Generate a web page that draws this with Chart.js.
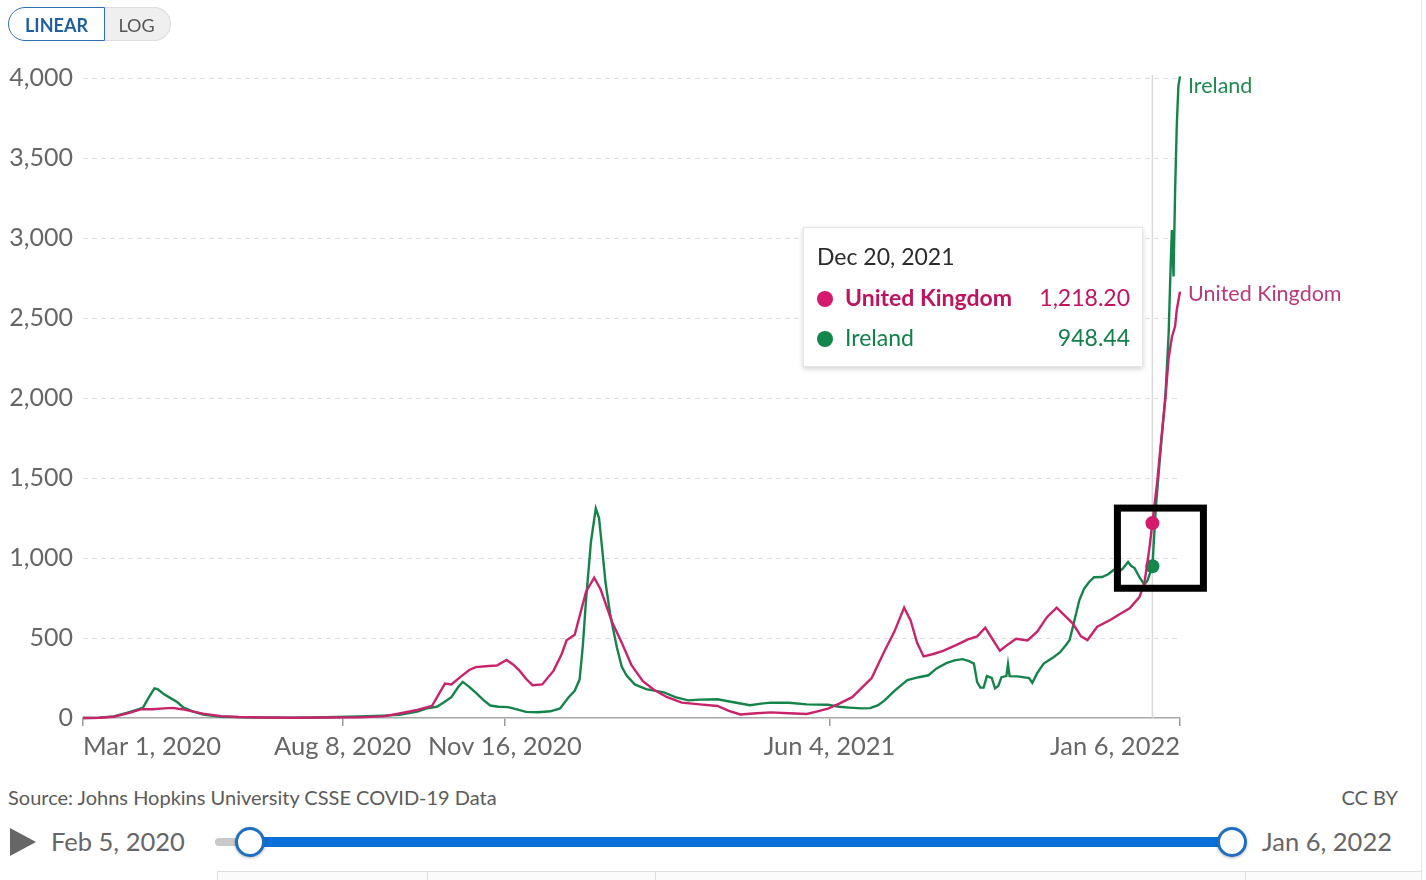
<!DOCTYPE html>
<html>
<head>
<meta charset="utf-8">
<script src="https://cdn.jsdelivr.net/npm/chart.js@4.4.0/dist/chart.umd.min.js"></script>
<style>
  body { margin: 0; background: #fff; font-family: Lato, "Noto Sans", sans-serif; }
  #wrap { position: relative; width: 1426px; height: 880px; overflow: hidden; }
  #frame { position: absolute; left: 1421px; top: 0; width: 1px; height: 880px; background: #e3e3e3; }
  #chartBox { position: absolute; left: 0; top: 0; width: 1426px; height: 780px; }
  .toggle { position: absolute; top: 7px; height: 34px; line-height: 34px; font-size: 18px; text-align: center; box-sizing: border-box; }
  #linear { left: 8px; width: 97px; border: 1.5px solid #2f6fb5; border-radius: 17px 0 0 17px; color: #1f5f9f; font-weight: 700; background: #fff; z-index: 2; }
  #log { left: 103px; width: 68px; border: 1px solid #ddd; border-left: none; border-radius: 0 17px 17px 0; background: #efefef; color: #555; }
  #tip { position: absolute; left: 803px; top: 227px; width: 340px; height: 140px; background: #fff; border: 1px solid #e6e6e6; box-shadow: 0 2px 5px rgba(0,0,0,0.18); box-sizing: border-box; }
  #tip .title { position: absolute; left: 13px; top: 14px; font-size: 23px; color: #2b2b2b; }
  #tip .row { position: absolute; left: 13px; right: 12px; height: 30px; line-height: 30px; font-size: 23px; }
  #tip .dot { display: inline-block; width: 16px; height: 16px; border-radius: 50%; margin-right: 12px; vertical-align: -1px; }
  #tip .name { font-weight: 700; }
  #tip .val { position: absolute; right: 0; top: 0; }
  #source { position: absolute; left: 8px; top: 785px; font-size: 20px; color: #5b5b5b; }
  #cc { position: absolute; right: 28px; top: 785px; font-size: 20px; color: #5b5b5b; }
  #play { position: absolute; left: 10px; top: 828px; width: 0; height: 0; border-top: 14px solid transparent; border-bottom: 14px solid transparent; border-left: 26px solid #666; }
  .date { position: absolute; top: 826px; font-size: 25.5px; color: #666; }
  #track { position: absolute; left: 215px; top: 838px; width: 1030px; height: 8px; background: #c9c9c9; border-radius: 4px; }
  #range { position: absolute; left: 250px; top: 837px; width: 982px; height: 10px; background: #0b6fd8; }
  .handle { position: absolute; top: 827px; width: 30px; height: 30px; border-radius: 50%; background: #fff; border: 3px solid #1e6fc2; box-sizing: border-box; box-shadow: 0 1px 3px rgba(0,0,0,0.3); }
  #tabs { position: absolute; left: 217px; top: 871px; width: 1204px; height: 12px; border-top: 1px solid #dedede; background: #fbfbfb; }
  .tabsep { position: absolute; top: 871px; width: 1px; height: 12px; background: #dedede; }
</style>
</head>
<body>
<div id="wrap">
  <div id="chartBox"><canvas id="covidChart" width="1426" height="780"></canvas></div>
  <div class="toggle" id="linear">LINEAR</div>
  <div class="toggle" id="log">LOG</div>
  <div id="tip">
    <div class="title" id="tipTitle"></div>
    <div class="row" style="top:54px;color:#c0135f"><span class="dot" style="background:#d41a6b"></span><span class="name">United Kingdom</span><span class="val" id="tipUk"></span></div>
    <div class="row" style="top:94px;color:#11804a"><span class="dot" style="background:#13874b"></span><span class="name" style="font-weight:400">Ireland</span><span class="val" id="tipIe"></span></div>
  </div>
  <div id="source">Source: Johns Hopkins University CSSE COVID-19 Data</div>
  <div id="cc">CC BY</div>
  <div id="play"></div>
  <div class="date" style="left:51px">Feb 5, 2020</div>
  <div id="track"></div>
  <div id="range"></div>
  <div class="handle" style="left:235px"></div>
  <div class="handle" style="left:1217px"></div>
  <div class="date" style="left:1262px">Jan 6, 2022</div>
  <div id="tabs"></div>
  <div class="tabsep" style="left:217px"></div>
  <div class="tabsep" style="left:427px"></div>
  <div class="tabsep" style="left:655px"></div>
  <div class="tabsep" style="left:1245px"></div>
  <div id="frame"></div>
</div>
<script>
// Days counted from Mar 1, 2020; values are daily new cases per million (7-day avg)
const ukDays = [0, 10, 19, 28, 36, 43, 50, 55, 61, 68, 74, 85, 96, 110, 130, 150, 170, 185, 195, 206,
  215, 219, 223, 227, 233, 238, 242, 250, 255, 261, 265, 269, 273, 277, 283, 290, 295, 298, 303, 310,
  315, 319, 326, 332, 338, 345, 352, 360, 369, 380, 391, 398, 405, 415, 424, 435, 446, 452, 459, 466,
  474, 480, 486, 494, 500, 506, 510, 514, 518, 524, 530, 538, 545, 551, 556, 560, 565, 570, 575, 582,
  588, 594, 600, 605, 610, 615, 619, 625, 633, 639, 645, 651, 654, 657, 659, 662, 665, 667, 669, 671,
  673, 674, 676];
const ukCases = [0, 2, 8, 30, 55, 55, 60, 63, 55, 40, 27, 12, 6, 3, 2, 3, 4, 10, 28, 50,
  75, 145, 215, 210, 260, 300, 318, 325, 328, 363, 335, 296, 245, 205, 210, 296, 400, 486, 520, 790,
  877, 803, 600, 470, 330, 230, 175, 130, 96, 85, 75, 45, 22, 30, 35, 30, 25, 40, 58, 90,
  130, 190, 250, 420, 540, 690, 610, 470, 385, 400, 420, 455, 490, 510, 565, 500, 420, 460, 495, 485,
  540, 630, 690, 640, 590, 510, 487, 570, 612, 650, 685, 756, 840, 1050, 1218.20, 1480, 1800, 2000, 2250, 2380,
  2450, 2550, 2665];

const ieDays = [0, 10, 19, 28, 33, 37, 40, 44, 46, 50, 55, 58, 62, 68, 74, 85, 100, 130, 150, 170,
  185, 195, 206, 212, 218, 222, 227, 231, 234, 238, 242, 247, 251, 256, 262, 268, 273, 280, 288, 294,
  299, 303, 306, 308, 310, 313, 316, 318, 320, 322, 325, 329, 332, 335, 340, 347, 358, 365, 373, 380,
  391, 400, 411, 418, 424, 435, 446, 459, 466, 472, 480, 485, 490, 494, 500, 508, 515, 521, 526, 532,
  537, 542, 546, 549, 551, 553, 555, 557, 560, 562, 564, 566, 569, 570, 571, 576, 583, 585, 588, 592,
  598, 602, 606, 608, 611, 614, 617, 620, 623, 628, 632, 635, 638, 641, 644, 646, 648, 651, 654, 656,
  659, 661, 664, 667, 669, 670, 671, 672, 673, 674, 675, 676];
const ieCases = [0, 2, 10, 35, 50, 65, 120, 185, 180, 148, 118, 100, 65, 40, 22, 8, 4, 2, 5, 10,
  15, 20, 40, 60, 70, 95, 130, 190, 226, 195, 158, 110, 78, 70, 68, 52, 38, 36, 42, 60,
  127, 170, 240, 450, 740, 1100, 1310, 1250, 1050, 845, 640, 440, 320, 265, 210, 180, 160, 130, 110, 115,
  117, 100, 80, 90, 96, 95, 85, 83, 70, 65, 60, 62, 80, 110, 170, 237, 255, 267, 310, 343,
  360, 368, 355, 340, 225, 190, 190, 262, 250, 185, 200, 255, 262, 337, 262, 260, 250, 220, 280, 340,
  380, 410, 460, 487, 612, 737, 810, 850, 880, 881, 900, 925, 910, 937, 975, 950, 937, 880, 835, 860,
  948.44, 1300, 1670, 2010, 2400, 2750, 3050, 2760, 3300, 3700, 3950, 4010];

const tickDays = [0, 160, 260, 460, 676];
const tickLabels = ["Mar 1, 2020", "Aug 8, 2020", "Nov 16, 2020", "Jun 4, 2021", "Jan 6, 2022"];

const hoverDay = 659;
const hoverLabel = "Dec 20, 2021";

const ukColor = "#c8236b";
const ieColor = "#15844b";

function toPoints(days, values) {
  return days.map((d, i) => ({ x: d, y: values[i] }));
}

// Fill the tooltip from the data at the hovered day
const fmt = (v) => v.toLocaleString("en-US", { minimumFractionDigits: 2, maximumFractionDigits: 2 });
document.getElementById("tipTitle").textContent = hoverLabel;
document.getElementById("tipUk").textContent = fmt(ukCases[ukDays.indexOf(hoverDay)]);
document.getElementById("tipIe").textContent = fmt(ieCases[ieDays.indexOf(hoverDay)]);

// Hover line, end labels and the black highlight box
const overlayPlugin = {
  id: "overlay",
  beforeDatasetsDraw(chart) {
    const { ctx, chartArea, scales } = chart;
    const x = scales.x.getPixelForValue(hoverDay);
    ctx.save();
    ctx.strokeStyle = "#d9d9d9";
    ctx.lineWidth = 1.5;
    ctx.beginPath();
    ctx.moveTo(x, chartArea.top - 3);
    ctx.lineTo(x, chartArea.bottom);
    ctx.stroke();
    ctx.restore();
  },
  afterDatasetsDraw(chart) {
    const { ctx, scales } = chart;
    ctx.save();
    ctx.font = "21.5px Lato";
    ctx.textBaseline = "middle";
    const lastIe = ieCases[ieCases.length - 1];
    const lastUk = ukCases[ukCases.length - 1];
    const xEnd = scales.x.getPixelForValue(tickDays[tickDays.length - 1]) + 8;
    ctx.fillStyle = "#1f8a50";
    ctx.fillText("Ireland", xEnd, scales.y.getPixelForValue(lastIe) + 10);
    ctx.fillStyle = "#b83a7c";
    ctx.fillText("United Kingdom", xEnd, scales.y.getPixelForValue(lastUk) + 2);

    const hx = scales.x.getPixelForValue(hoverDay);
    const yUk = scales.y.getPixelForValue(ukCases[ukDays.indexOf(hoverDay)]);
    const yIe = scales.y.getPixelForValue(ieCases[ieDays.indexOf(hoverDay)]);
    ctx.strokeStyle = "#000";
    ctx.lineWidth = 7;
    ctx.strokeRect(hx - 35, yUk - 15, 86, yIe - yUk + 37);
    ctx.restore();
  },
};

const ctx = document.getElementById("covidChart").getContext("2d");
new Chart(ctx, {
  type: "line",
  data: {
    datasets: [
      {
        label: "United Kingdom",
        data: toPoints(ukDays, ukCases),
        borderColor: ukColor,
        backgroundColor: "#d41a6b",
        borderWidth: 2.4,
        tension: 0,
        clip: false,
        pointRadius: (c) => (c.raw && c.raw.x === hoverDay ? 7 : 0),
        pointBorderWidth: 0,
      },
      {
        label: "Ireland",
        data: toPoints(ieDays, ieCases),
        borderColor: ieColor,
        backgroundColor: "#13874b",
        borderWidth: 2.4,
        tension: 0,
        clip: false,
        pointRadius: (c) => (c.raw && c.raw.x === hoverDay ? 7 : 0),
        pointBorderWidth: 0,
      },
    ],
  },
  options: {
    responsive: false,
    animation: false,
    events: [],
    layout: { padding: { top: 78, right: 246, left: 0, bottom: 0 } },
    plugins: {
      legend: { display: false },
      tooltip: { enabled: false },
    },
    scales: {
      x: {
        type: "linear",
        min: 0,
        max: 676,
        afterBuildTicks: (scale) => {
          scale.ticks = tickDays.map((d) => ({ value: d }));
        },
        afterFit: (scale) => {
          scale.height = 62;
        },
        ticks: {
          autoSkip: false,
          maxRotation: 0,
          align: "inner",
          padding: 5,
          color: "#666",
          font: { family: "Lato", size: 25.5 },
          callback: (value) => tickLabels[tickDays.indexOf(value)],
        },
        grid: {
          drawOnChartArea: false,
          drawTicks: true,
          tickLength: 8,
          color: "#9a9a9a",
          lineWidth: 1.5,
        },
        border: { display: true, color: "#a8a8a8", width: 1.5 },
      },
      y: {
        min: 0,
        max: 4000,
        afterFit: (scale) => {
          scale.width = 83;
        },
        ticks: {
          stepSize: 500,
          padding: 10,
          color: "#666",
          font: { family: "Lato", size: 25 },
          callback: (value) => value.toLocaleString("en-US"),
        },
        grid: {
          drawTicks: false,
          color: (c) => (c.tick && c.tick.value === 0 ? "rgba(0,0,0,0)" : "#dcdcdc"),
          lineWidth: 1,
        },
        border: { display: false, dash: [5, 4] },
      },
    },
  },
  plugins: [overlayPlugin],
});
</script>
</body>
</html>
